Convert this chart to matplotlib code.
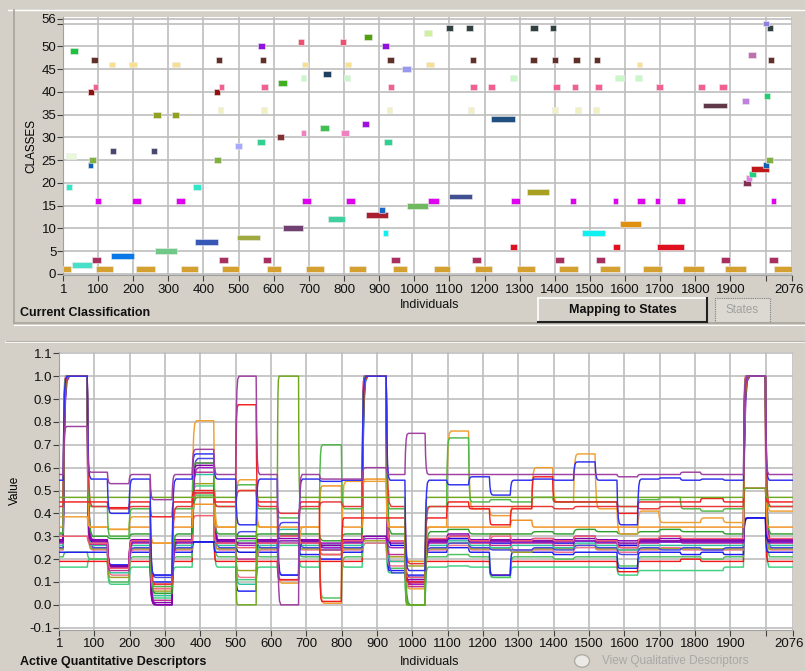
import matplotlib
matplotlib.use("Agg")
import matplotlib.pyplot as plt
from matplotlib.patches import Rectangle, Circle
from matplotlib.lines import Line2D
import matplotlib.transforms as mtransforms
import numpy as np

# ---------------- data: top panel (class membership along individuals) ----------------
class_ids = [1, 2, 3, 4, 5, 6, 7, 8, 9, 10, 11, 12, 13, 14, 15, 16, 17, 18, 19, 20,
             21, 22, 23, 24, 25, 26, 27, 28, 29, 30, 31, 32, 33, 34, 35, 36, 37, 38, 39, 40,
             41, 42, 43, 44, 45, 46, 47, 48, 49, 50, 51, 52, 53, 54, 55]
class_colors = ["#D4A030", "#48E0C8", "#A83060", "#0878E8", "#70C888", "#E01020", "#3858B8", "#A0A840",
                "#10F0F0", "#704070", "#E09010", "#40D0A0", "#A82030", "#1868C8", "#70B860", "#E000F0",
                "#405090", "#A8A020", "#30E8C8", "#803050", "#E080E8", "#20D080", "#C01818", "#1060B8",
                "#80B040", "#E8F8D8", "#484870", "#A8A8FF", "#30D090", "#803030", "#F080C0", "#40C050",
                "#A010E0", "#205080", "#90A020", "#F0F0C0", "#603848", "#C080E0", "#20D070", "#901010",
                "#F06090", "#40B020", "#C8F8C8", "#204060", "#9898F0", "#F8E090", "#603028", "#C070B0",
                "#20C040", "#9010E0", "#F05070", "#50A010", "#D0F0A0", "#304040", "#9080E0"]
class_spans = [
    [(1, 22), (95, 143), (208, 262), (336, 383), (454, 501), (580, 622), (692, 743), (815, 863), (940, 980),
     (1055, 1102), (1172, 1222), (1292, 1343), (1412, 1465), (1528, 1585), (1651, 1705), (1765, 1825),
     (1885, 1944), (2025, 2076)],
    [(26, 83)],
    [(83, 108), (443, 469), (568, 591), (933, 958), (1163, 1189), (1400, 1425), (1518, 1544), (1874, 1900),
     (2010, 2035)],
    [(137, 203)],
    [(263, 324)],
    [(1273, 1292), (1567, 1586), (1690, 1769)],
    [(376, 442)],
    [(496, 562)],
    [(911, 925), (1478, 1544)],
    [(626, 682)],
    [(1586, 1645)],
    [(754, 802)],
    [(863, 924)],
    [(900, 918)],
    [(978, 1039)],
    [(92, 108), (197, 223), (323, 347), (681, 707), (806, 831), (1040, 1069), (1276, 1301), (1444, 1460),
     (1565, 1581), (1633, 1658), (1684, 1700), (1748, 1772), (2014, 2030)],
    [(1100, 1163)],
    [(1322, 1384)],
    [(10, 26), (371, 393)],
    [(1937, 1958)],
    [(1944, 1961)],
    [(1953, 1972)],
    [(1959, 2009)],
    [(72, 86), (1992, 2009)],
    [(74, 93), (430, 449), (2001, 2020)],
    [(10, 37)],
    [(135, 152), (250, 269)],
    [(490, 510)],
    [(552, 574), (915, 937)],
    [(609, 628)],
    [(677, 691), (792, 814)],
    [(731, 756)],
    [(851, 872)],
    [(1217, 1286)],
    [(257, 279), (311, 330)],
    [(440, 455), (563, 580), (921, 938), (1153, 1171), (1392, 1409), (1458, 1475), (1510, 1527)],
    [(1822, 1890)],
    [(1933, 1952)],
    [(1995, 2012)],
    [(72, 89), (430, 446)],
    [(85, 99), (443, 459), (565, 583), (926, 942), (1160, 1179), (1210, 1229), (1395, 1416), (1449, 1466),
     (1515, 1534), (1688, 1707), (1808, 1827), (1867, 1889)],
    [(613, 637)],
    [(677, 691), (800, 818), (1272, 1292), (1572, 1597), (1628, 1647)],
    [(739, 764)],
    [(966, 991)],
    [(130, 148), (189, 211), (311, 332), (681, 698), (802, 821), (1034, 1057), (1634, 1649)],
    [(80, 100), (437, 454), (562, 579), (923, 942), (1158, 1177), (1329, 1348), (1392, 1409), (1451, 1472),
     (1511, 1530), (2006, 2024)],
    [(1949, 1974)],
    [(19, 43)],
    [(555, 576), (909, 929)],
    [(669, 687), (788, 807)],
    [(856, 879)],
    [(1028, 1050)],
    [(1089, 1111), (1148, 1167), (1330, 1351), (1386, 1403), (2004, 2021)],
    [(1994, 2011)],
]

# ---------------- data: bottom panel (descriptor values, step levels per block) ----------------
seg_bounds = [1, 12, 80, 137, 198, 258, 320, 377, 438, 500, 558, 618, 678, 737, 799, 858, 926, 979,
              1036, 1097, 1159, 1218, 1277, 1338, 1397, 1456, 1517, 1579, 1637, 1697, 1758, 1815, 1879,
              1937, 1999, 2076]

d_tl2 = [0.165, 0.165, 0.20, 0.09, 0.165, 0.03, 0.165, 0.52, 0.165, 0.11, 0.165, 0.26, 0.165, 0.26, 0.165, 0.27, 0.14, 0.0, 0.165, 0.17, 0.165, 0.12, 0.165, 0.165, 0.165, 0.165, 0.165, 0.13, 0.15, 0.15, 0.15, 0.15, 0.165, 1.0, 0.165]
d_rd4 = [0.19, 0.19, 0.19, 0.16, 0.19, 0.09, 0.19, 0.49, 0.19, 0.19, 0.19, 0.11, 0.19, 0.19, 0.19, 1.0, 0.19, 0.09, 0.19, 0.19, 0.19, 0.13, 0.19, 0.19, 0.19, 0.19, 0.19, 0.145, 0.19, 0.19, 0.20, 0.19, 0.19, 1.0, 0.19]
d_gr3 = [0.21, 0.23, 0.20, 0.10, 0.21, 0.05, 0.21, 0.48, 0.21, 0.28, 0.21, 0.28, 0.21, 0.03, 0.21, 0.30, 0.16, 0.19, 0.21, 0.22, 0.21, 0.12, 0.21, 0.21, 0.20, 0.21, 0.21, 0.17, 0.21, 0.21, 0.21, 0.20, 0.21, 1.0, 0.21]
d_bl3 = [0.23, 0.23, 0.23, 0.175, 0.23, 0.10, 0.23, 0.275, 0.23, 0.06, 0.23, 0.27, 0.22, 0.20, 0.23, 1.0, 0.15, 0.13, 0.23, 0.25, 0.23, 0.13, 0.23, 0.23, 0.22, 0.23, 0.23, 0.16, 0.23, 0.23, 0.22, 0.23, 0.22, 0.38, 0.23]
d_pk1 = [0.24, 1.0, 0.24, 0.13, 0.24, 0.08, 0.24, 0.49, 0.24, 0.12, 0.24, 0.27, 0.24, 0.22, 0.24, 0.27, 0.17, 0.08, 0.24, 0.26, 0.24, 0.30, 0.24, 0.24, 0.23, 0.25, 0.24, 0.23, 0.24, 0.25, 0.24, 0.24, 0.24, 1.0, 0.24]
d_ol1 = [0.245, 1.0, 0.245, 0.12, 0.245, 0.06, 0.245, 0.53, 0.245, 0.15, 0.245, 0.30, 0.245, 0.22, 0.245, 0.28, 0.21, 0.17, 0.245, 0.27, 0.245, 0.245, 0.23, 0.245, 0.245, 0.26, 0.245, 0.24, 0.245, 0.245, 0.245, 0.245, 0.245, 1.0, 0.245]
d_bl2 = [0.25, 1.0, 0.25, 0.17, 0.25, 0.12, 0.25, 0.64, 0.25, 0.32, 0.25, 0.36, 0.25, 0.26, 0.25, 1.0, 0.14, 0.12, 0.25, 0.27, 0.25, 0.24, 0.24, 0.25, 0.24, 0.26, 0.25, 0.22, 0.25, 0.24, 0.25, 0.24, 0.25, 1.0, 0.25]
d_tl1 = [0.26, 1.0, 0.26, 0.14, 0.26, 0.04, 0.26, 0.57, 0.26, 0.09, 0.26, 0.33, 0.26, 0.24, 0.26, 1.0, 0.19, 0.0, 0.26, 0.28, 0.26, 0.25, 0.26, 0.26, 0.25, 0.27, 0.26, 0.24, 0.26, 0.26, 0.26, 0.26, 0.26, 1.0, 0.26]
d_mg1 = [0.27, 1.0, 0.265, 0.15, 0.27, 0.02, 0.27, 0.58, 0.27, 0.20, 0.27, 0.31, 0.27, 0.24, 0.27, 1.0, 0.22, 0.08, 0.27, 0.29, 0.27, 0.26, 0.27, 0.27, 0.26, 0.28, 0.27, 0.26, 0.27, 0.30, 0.27, 0.27, 0.27, 1.0, 0.27]
d_bl4 = [0.275, 1.0, 0.275, 0.17, 0.275, 0.13, 0.275, 0.275, 0.275, 0.23, 0.275, 0.13, 0.275, 0.25, 0.275, 1.0, 0.26, 0.12, 0.275, 0.29, 0.275, 0.27, 0.275, 0.275, 0.27, 0.28, 0.275, 0.26, 0.275, 0.275, 0.275, 0.275, 0.275, 0.38, 0.275]
d_pu3 = [0.275, 1.0, 0.275, 0.16, 0.275, 0.0, 0.275, 0.60, 0.275, 0.26, 0.275, 0.28, 0.275, 0.25, 0.275, 0.29, 0.25, 0.09, 0.275, 0.30, 0.275, 0.275, 0.275, 0.275, 0.275, 0.28, 0.275, 0.25, 0.275, 0.275, 0.275, 0.275, 0.275, 1.0, 0.275]
d_pu2 = [0.28, 1.0, 0.28, 0.17, 0.28, 0.0, 0.28, 0.61, 0.28, 0.27, 0.28, 0.30, 0.28, 0.26, 0.28, 1.0, 0.27, 0.10, 0.28, 0.30, 0.28, 0.28, 0.28, 0.28, 0.28, 0.29, 0.28, 0.27, 0.28, 0.28, 0.28, 0.28, 0.28, 1.0, 0.28]
d_pu4 = [0.285, 1.0, 0.285, 0.165, 0.285, 0.01, 0.285, 0.62, 0.285, 0.29, 0.285, 0.29, 0.285, 0.27, 0.285, 0.30, 0.28, 0.11, 0.285, 0.31, 0.285, 0.285, 0.285, 0.29, 0.285, 0.30, 0.285, 0.28, 0.285, 0.29, 0.285, 0.285, 0.285, 1.0, 0.285]
d_rd3 = [0.30, 0.30, 0.27, 0.16, 0.28, 0.07, 0.28, 0.39, 0.27, 0.25, 0.27, 0.30, 0.27, 0.22, 0.28, 1.0, 0.28, 0.12, 0.29, 0.30, 0.28, 0.31, 0.28, 0.29, 0.28, 0.30, 0.28, 0.25, 0.29, 0.30, 0.29, 0.29, 0.29, 1.0, 0.29]
d_gr4 = [0.31, 1.0, 0.30, 0.29, 0.31, 0.05, 0.31, 0.47, 0.31, 0.30, 0.31, 0.31, 0.31, 0.28, 0.31, 1.0, 0.31, 0.0, 0.32, 0.33, 0.31, 0.31, 0.31, 0.32, 0.31, 0.33, 0.32, 0.31, 0.32, 0.33, 0.32, 0.32, 0.31, 1.0, 0.31]
d_or2 = [0.34, 1.0, 0.34, 0.33, 0.34, 0.27, 0.34, 0.44, 0.34, 0.50, 0.34, 0.34, 0.34, 0.52, 0.34, 0.55, 0.34, 0.19, 0.34, 0.34, 0.34, 0.34, 0.37, 0.34, 0.34, 0.34, 0.34, 0.34, 0.34, 0.34, 0.34, 0.34, 0.34, 1.0, 0.34]
d_or1 = [0.385, 0.385, 0.34, 0.33, 0.385, 0.27, 0.385, 0.805, 0.34, 0.547, 0.34, 0.095, 0.34, 0.007, 0.54, 0.54, 0.34, 0.07, 0.34, 0.76, 0.42, 0.39, 0.43, 0.60, 0.45, 0.66, 0.42, 0.31, 0.41, 0.36, 0.36, 0.38, 0.36, 1.0, 0.41]
d_gr2 = [0.315, 1.0, 0.43, 0.30, 0.42, 0.08, 0.42, 0.62, 0.43, 0.525, 0.42, 0.38, 0.42, 0.70, 0.42, 1.0, 0.42, 0.0, 0.43, 0.73, 0.45, 0.46, 0.45, 0.47, 0.45, 0.45, 0.45, 0.43, 0.46, 0.47, 0.42, 0.41, 0.42, 1.0, 0.43]
d_rd2 = [0.43, 1.0, 0.43, 0.42, 0.43, 0.09, 0.43, 0.49, 0.43, 0.50, 0.43, 0.40, 0.43, 0.45, 0.43, 1.0, 0.43, 0.18, 0.43, 0.43, 0.43, 0.43, 0.43, 0.43, 0.42, 0.43, 0.43, 0.43, 0.42, 0.43, 0.43, 0.43, 0.43, 1.0, 0.43]
d_rd1 = [0.45, 0.45, 0.45, 0.425, 0.45, 0.385, 0.45, 0.50, 0.45, 0.875, 0.45, 0.11, 0.45, 0.015, 0.38, 0.38, 0.38, 0.10, 0.38, 0.45, 0.42, 0.35, 0.42, 0.56, 0.45, 0.45, 0.45, 0.40, 0.45, 0.45, 0.45, 0.465, 0.45, 0.51, 0.45]
d_gr1 = [0.47, 0.47, 0.47, 0.47, 0.47, 0.47, 0.47, 0.47, 0.47, 0.0, 0.47, 1.0, 0.47, 0.47, 0.47, 0.47, 0.47, 0.0, 0.47, 0.47, 0.47, 0.47, 0.47, 0.47, 0.47, 0.47, 0.47, 0.47, 0.47, 0.47, 0.47, 0.47, 0.47, 0.51, 0.47]
d_bl1 = [0.545, 1.0, 0.55, 0.40, 0.55, 0.13, 0.55, 0.66, 0.55, 0.35, 0.55, 0.13, 0.55, 0.54, 0.545, 1.0, 0.545, 0.15, 0.545, 0.525, 0.56, 0.48, 0.545, 0.55, 0.545, 0.625, 0.545, 0.35, 0.55, 0.555, 0.545, 0.55, 0.545, 1.0, 0.545]
d_pu1 = [0.57, 0.78, 0.58, 0.53, 0.57, 0.46, 0.57, 0.68, 0.57, 1.0, 0.57, 0.0, 0.57, 0.55, 0.55, 0.60, 0.57, 0.75, 0.57, 0.57, 0.57, 0.57, 0.57, 0.57, 0.57, 0.57, 0.57, 0.56, 0.57, 0.57, 0.58, 0.57, 0.57, 1.0, 0.57]

series = [d_tl2, d_rd4, d_gr3, d_bl3, d_pk1, d_ol1, d_bl2, d_tl1, d_mg1, d_bl4, d_pu3, d_pu2, d_pu4,
          d_rd3, d_gr4, d_or2, d_or1, d_gr2, d_rd2, d_rd1, d_gr1, d_bl1, d_pu1]
series_colors = ["#40D080", "#F01818", "#50C060", "#2020F0", "#F07090", "#A0A020", "#4848E8", "#30C0A0",
                 "#C03090", "#1010E0", "#A020C8", "#8000A0", "#8800B0", "#F06070", "#30A030", "#F09020",
                 "#F0A030", "#50B848", "#E83838", "#F02020", "#70A820", "#3030F0", "#A040A0"]
series_ramp = [10, 6, 12, 8, 14, 9, 16, 11, 7, 13, 18, 12, 9, 10, 15, 8, 12, 9, 14, 7, 5, 11, 10]
# shape of the smoothed transition (fraction of ramp width, fraction of the jump)
ease_t = [0.0, 0.15, 0.35, 0.6, 1.0]
ease_f = [0.0, 0.55, 0.85, 0.97, 1.0]

x_ticks = [1, 100, 200, 300, 400, 500, 600, 700, 800, 900, 1000, 1100, 1200, 1300, 1400, 1500, 1600,
           1700, 1800, 1900, 2000, 2076]
x_labels = ["1", "100", "200", "300", "400", "500", "600", "700", "800", "900", "1000", "1100", "1200",
            "1300", "1400", "1500", "1600", "1700", "1800", "1900", "", "2076"]
top_yticks = [0, 5, 10, 15, 20, 25, 30, 35, 40, 45, 50, 55, 56]
top_ylabels = ["0", "5", "10", "15", "20", "25", "30", "35", "40", "45", "50", "", "56"]
bot_yticks = [-0.1, 0.0, 0.1, 0.2, 0.3, 0.4, 0.5, 0.6, 0.7, 0.8, 0.9, 1.0, 1.1]
bot_ylabels = ["-0.1", "0.0", "0.1", "0.2", "0.3", "0.4", "0.5", "0.6", "0.7", "0.8", "0.9", "1.0", "1.1"]

# ---------------- figure ----------------
W, H = 805, 671
BG = "#D4D0C8"
FONT = "Liberation Sans"
plt.rcParams["font.family"] = [FONT, "DejaVu Sans"]

fig = plt.figure(figsize=(W / 100, H / 100), dpi=100, facecolor=BG)


def fx(px):
    return px / W


def fy(py):
    return 1 - py / H


def style_axes(ax, yt, yl):
    ax.set_facecolor("white")
    ax.set_xticks(x_ticks)
    ax.set_xticklabels(x_labels)
    ax.set_yticks(yt)
    ax.set_yticklabels(yl)
    ax.grid(True, color="#BEBEBE", linewidth=1.2, zorder=0)
    ax.set_axisbelow(True)
    ax.tick_params(axis="both", direction="out", length=4, width=0.8, color="#404040",
                   labelsize=9.5, labelcolor="#101010", pad=1)
    ax.tick_params(axis="x", pad=2)
    for side in ["top", "right"]:
        ax.spines[side].set_visible(False)
    for side in ["left", "bottom"]:
        ax.spines[side].set_color("#A0A0A0")
        ax.spines[side].set_linewidth(0.8)
    # keep the last label ("2076") inside the window edge
    last = ax.get_xticklabels()[-1]
    last.set_horizontalalignment("right")
    last.set_transform(last.get_transform() + mtransforms.ScaledTranslation(11.5 / 100, 0,
                                                                            fig.dpi_scale_trans))


# ---- top axes ----
ax1 = fig.add_axes([fx(63.3), fy(275.3), fx(792.3 - 63.3), (275.3 - 16.7) / H])
ax1.set_xlim(1, 2076)
ax1.set_ylim(-0.3, 56.5)
style_axes(ax1, top_yticks, top_ylabels)
for cid, col, spans in zip(class_ids, class_colors, class_spans):
    ax1.barh([cid] * len(spans), [e - s for s, e in spans], left=[s for s, e in spans], height=1.3,
             color=col, edgecolor="#EDEDED", linewidth=0.4, zorder=3)
ax1.set_ylabel("CLASSES", fontsize=8.5, labelpad=3)

# ---- bottom axes ----
ax2 = fig.add_axes([fx(59.3), fy(630.0), fx(792.6 - 59.3), (630.0 - 351.7) / H])
ax2.set_xlim(1, 2076)
ax2.set_ylim(-0.11, 1.107)
style_axes(ax2, bot_yticks, bot_ylabels)
for vals, col, ramp in zip(series, series_colors, series_ramp):
    xs, ys = [seg_bounds[0]], [vals[0]]
    for i, v in enumerate(vals):
        s, e = seg_bounds[i], seg_bounds[i + 1]
        if i > 0:
            prev = vals[i - 1]
            for t, f in zip(ease_t[1:], ease_f[1:]):
                xs.append(s + t * ramp)
                ys.append(prev + f * (v - prev))
        xs.append(e)
        ys.append(v)
    ax2.plot(xs, ys, color=col, linewidth=1.05, zorder=3)
ax2.set_ylabel("Value", fontsize=8.5, labelpad=6)

# ---- GUI decorations ----
def hline(x0, x1, y, col, lw=1.0):
    fig.add_artist(Line2D([fx(x0), fx(x1)], [fy(y), fy(y)], color=col, linewidth=lw))


def vline(x, y0, y1, col, lw=1.0):
    fig.add_artist(Line2D([fx(x), fx(x)], [fy(y0), fy(y1)], color=col, linewidth=lw))


# top panel etched frame
hline(8, 805, 10, "#FFFFFF", 1.0)
vline(14, 10, 323, "#A8A49C", 1.2)
hline(14, 805, 323, "#A8A49C", 1.2)
hline(14, 805, 324.5, "#FFFFFF", 0.8)
# bottom panel top edge
hline(6, 805, 342, "#FFFFFF", 1.2)
hline(6, 805, 340.5, "#B8B4AC", 0.8)

fig.text(fx(430), fy(305), "Individuals", fontsize=9, ha="center", va="center", color="#101010")
fig.text(fx(430), fy(662), "Individuals", fontsize=9, ha="center", va="center", color="#101010")
fig.text(fx(20), fy(313), "Current Classification", fontsize=9, fontweight="bold", ha="left",
         va="center", color="#101010")
fig.text(fx(20), fy(662), "Active Quantitative Descriptors", fontsize=9, fontweight="bold", ha="left",
         va="center", color="#101010")

# "Mapping to States" button
bx0, by0, bx1, by1 = 538, 298, 707, 322
fig.add_artist(Rectangle((fx(bx0), fy(by1)), fx(bx1 - bx0), (by1 - by0) / H, facecolor=BG,
                         edgecolor="none"))
hline(bx0, bx1, by0, "#FFFFFF", 1.2)
vline(bx0, by0, by1, "#FFFFFF", 1.2)
hline(bx0, bx1, by1, "#202020", 1.5)
vline(bx1, by0, by1, "#202020", 1.5)
fig.text(fx((bx0 + bx1) / 2), fy(310), "Mapping to States", fontsize=9, fontweight="bold",
         ha="center", va="center", color="#101010")

# "States" button (disabled)
sx0, sy0, sx1, sy1 = 715, 298, 770, 322
fig.add_artist(Rectangle((fx(sx0), fy(sy1)), fx(sx1 - sx0), (sy1 - sy0) / H, facecolor="#DCD9D2",
                         edgecolor="#808080", linewidth=0.8, linestyle=(0, (1, 1))))
fig.text(fx(742.5), fy(310), "States", fontsize=8.5, ha="center", va="center", color="#A0A0A0")

# disabled radio "View Qualitative Descriptors"
fig.add_artist(Circle((fx(582), fy(661)), 7.5 / W, facecolor="#ECEAE6", edgecolor="#B0ACA4",
                      linewidth=1.0, transform=fig.transFigure))
fig.text(fx(602), fy(661), "View Qualitative Descriptors", fontsize=8.5, ha="left", va="center",
         color="#A8A8A8")

fig.savefig("out.png", dpi=100, facecolor=BG)
